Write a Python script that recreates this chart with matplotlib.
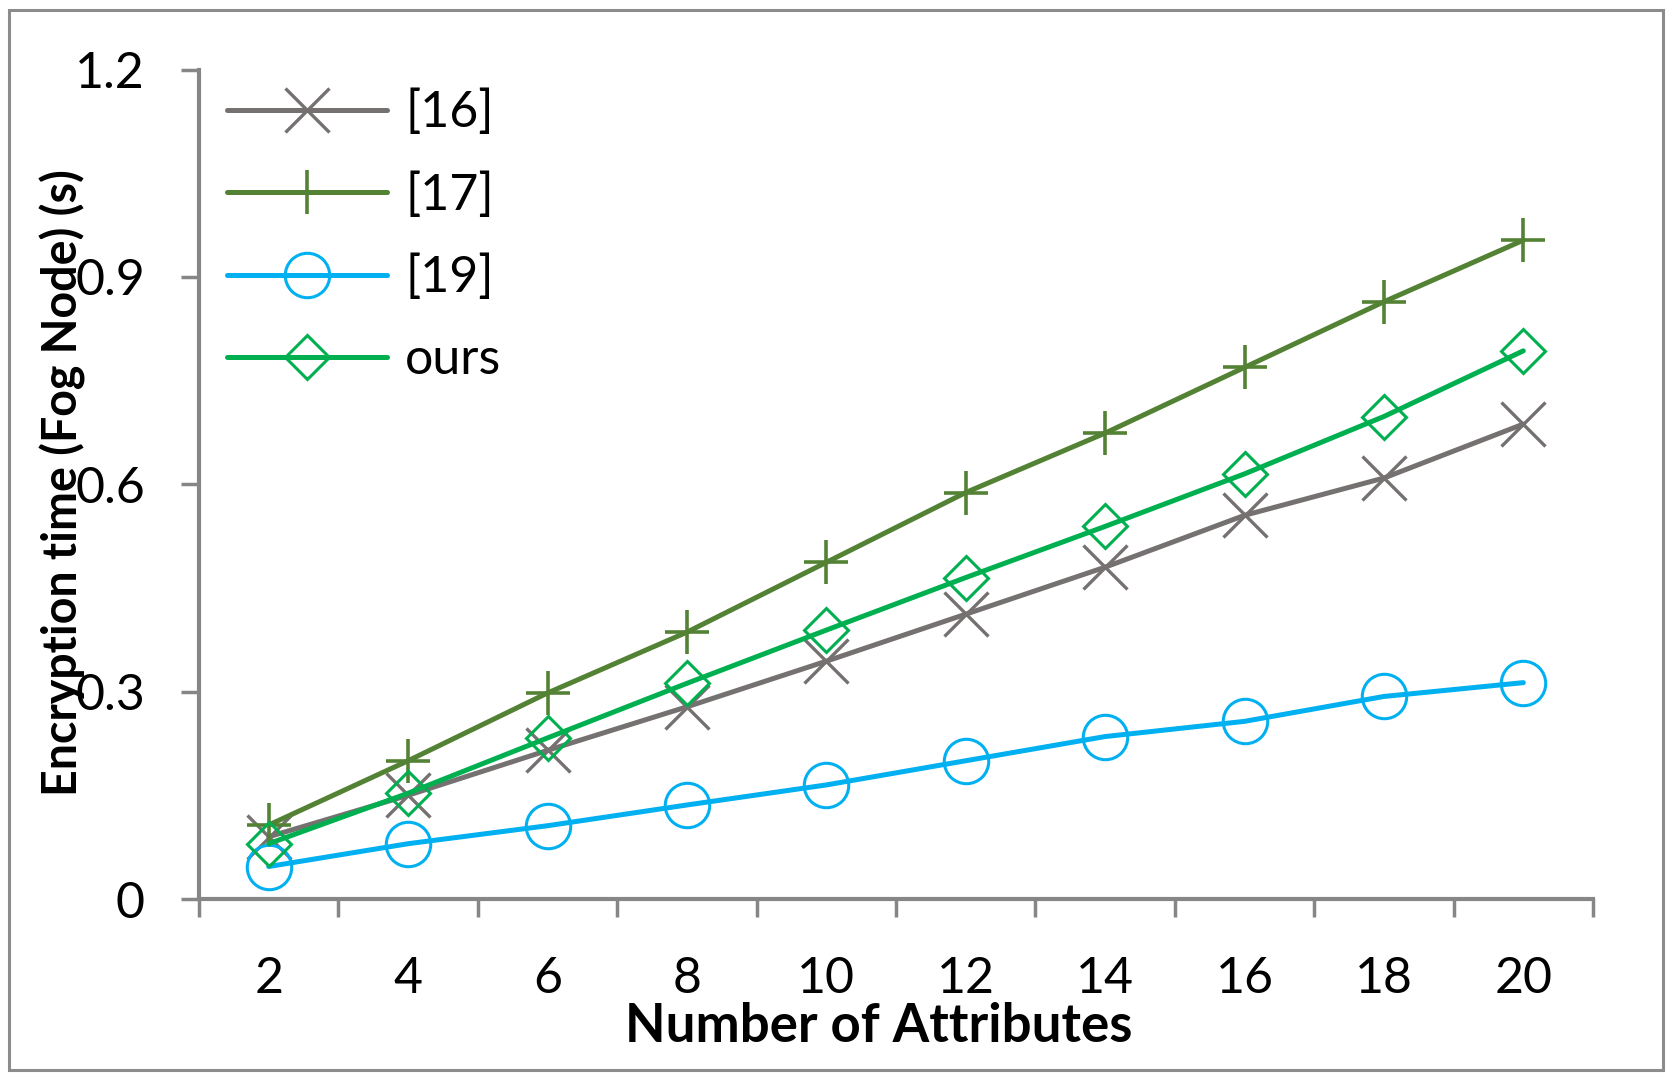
import matplotlib
matplotlib.use("Agg")
import matplotlib.pyplot as plt
from matplotlib.patches import Rectangle

plt.rcParams['font.family'] = ['Lato', 'DejaVu Sans']

attributes = ["2", "4", "6", "8", "10", "12", "14", "16", "18", "20"]
ref16 = [0.090, 0.150, 0.215, 0.278, 0.344, 0.412, 0.480, 0.555, 0.609, 0.687]
ref17 = [0.107, 0.200, 0.298, 0.386, 0.487, 0.588, 0.674, 0.769, 0.864, 0.953]
ref19 = [0.047, 0.080, 0.106, 0.136, 0.165, 0.200, 0.235, 0.257, 0.293, 0.313]
ours = [0.080, 0.153, 0.233, 0.312, 0.389, 0.465, 0.539, 0.615, 0.698, 0.793]
series_names = ["[16]", "[17]", "[19]", "ours"]
yticks = [0, 0.3, 0.6, 0.9, 1.2]
ytick_labels = ["0", "0.3", "0.6", "0.9", "1.2"]

W, H = 1676, 1082
fig = plt.figure(figsize=(W / 100, H / 100), dpi=100)
fig.patches.append(Rectangle((8.5 / W, 1 - 1070 / H), (1663 - 8.5) / W, (1070 - 10) / H,
                             transform=fig.transFigure, fill=False, edgecolor="#8c8c8c",
                             linewidth=2.2, zorder=0))

ax = fig.add_axes([199 / W, 1 - 899 / H, (1593 - 199) / W, (899 - 69.5) / H])

x = list(range(len(attributes)))
lw = 3.6
ax.plot(x, ref16, color="#767171", lw=lw, marker="x", markersize=31, markeredgewidth=2.4,
        label=series_names[0], solid_capstyle="round")
ax.plot(x, ref17, color="#548235", lw=lw, marker="+", markersize=31, markeredgewidth=2.6,
        label=series_names[1], solid_capstyle="round")
ax.plot(x, ref19, color="#00B0F0", lw=lw, marker="o", markersize=32, markeredgewidth=2.2,
        fillstyle="none", label=series_names[2], solid_capstyle="round")
ax.plot(x, ours, color="#00B050", lw=lw, marker="D", markersize=22, markeredgewidth=2.2,
        fillstyle="none", label=series_names[3], solid_capstyle="round")

ax.set_xlim(-0.5, len(attributes) - 0.5)
ax.set_ylim(0, 1.2)
ax.set_yticks(yticks)
ax.set_yticklabels(ytick_labels)
ax.set_xticks(x)
ax.set_xticklabels(attributes)
ax.set_xticks([i - 0.5 for i in range(len(attributes) + 1)], minor=True)

for s in ["top", "right"]:
    ax.spines[s].set_visible(False)
for s in ["left", "bottom"]:
    ax.spines[s].set_color("#868686")
    ax.spines[s].set_linewidth(3.0)

ax.tick_params(axis="y", direction="out", length=13, width=2.5, color="#868686",
               labelsize=36, pad=26)
ax.tick_params(axis="x", which="major", length=0, labelsize=36, pad=41)
ax.tick_params(axis="x", which="minor", direction="out", length=13, width=2.5, color="#868686")

fig.text(879 / W, 1 - 1042 / H, "Number of Attributes", fontsize=38, fontweight="bold",
         ha="center", va="baseline")
fig.text(78 / W, 1 - 483 / H, "Encryption time (Fog Node) (s)", fontsize=33.5,
         fontweight="bold", rotation=90, rotation_mode="anchor", ha="center", va="baseline")

leg = ax.legend(loc="upper left", bbox_to_anchor=(0.006, 1.0), frameon=False, fontsize=36,
                handlelength=3.2, handletextpad=0.36, labelspacing=0.72, borderpad=0.2,
                borderaxespad=0.2)

fig.savefig("out.png", dpi=100)
